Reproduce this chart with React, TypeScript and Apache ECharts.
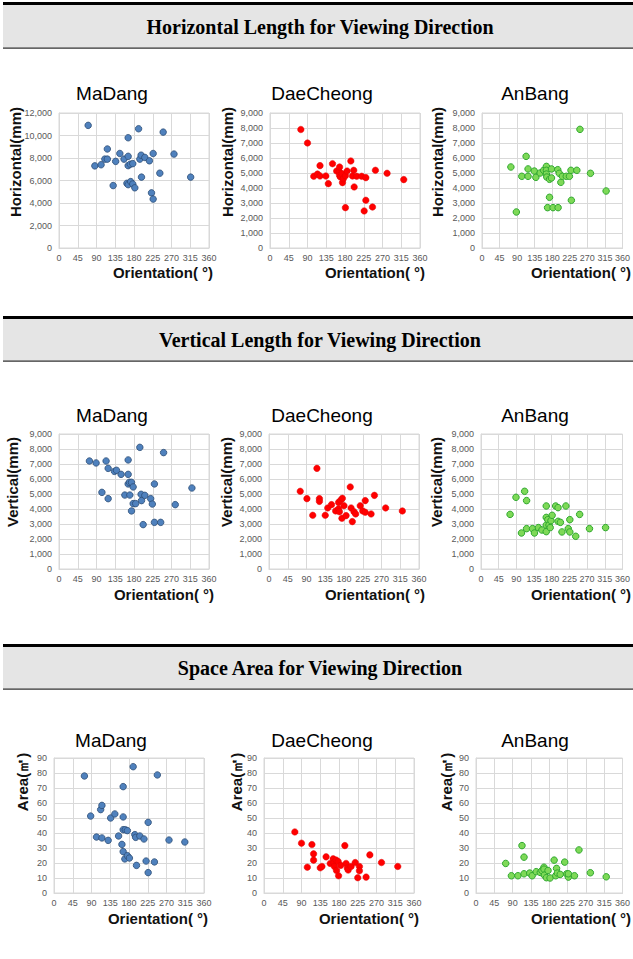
import React, { useEffect, useRef } from "react";
import * as echarts from "echarts";

// ---------- data: [orientation(°), value] ----------
const madangHorizontal: [number, number][] = [
  [70, 10900], [86, 7300], [101, 7400], [116, 8800], [110, 7900], [116, 7900], [130, 5550],
  [136, 7700], [146, 8400], [156, 7900], [166, 9800], [166, 8150], [166, 7320], [171, 7450],
  [177, 7500], [163, 5750], [166, 5630], [172, 5900], [177, 5690], [182, 5350], [191, 10600],
  [194, 7900], [197, 8250], [198, 6300], [206, 8050], [217, 7750], [226, 8400], [222, 4900],
  [226, 4350], [242, 6650], [250, 10300], [276, 8350], [316, 6300],
];
const daecheongHorizontal: [number, number][] = [
  [74, 7900], [90, 7000], [105, 4780], [114, 4930], [120, 5490], [120, 4800], [134, 4800],
  [140, 4290], [150, 5620], [160, 5130], [166, 5110], [167, 5400], [167, 4840], [169, 4730],
  [173, 4950], [174, 4360], [176, 4620], [181, 4820], [181, 2690], [185, 5130], [194, 5800],
  [198, 4800], [201, 5180], [202, 4070], [208, 4780], [220, 4780], [226, 2470], [230, 4690],
  [230, 3180], [246, 2730], [253, 5180], [281, 4980], [321, 4560],
];
const anbangHorizontal: [number, number][] = [
  [74, 5400], [88, 2400], [102, 4780], [113, 6110], [118, 5270], [118, 4780], [134, 5130],
  [138, 4710], [149, 5000], [158, 5180], [165, 5440], [165, 5180], [165, 4930], [166, 4730],
  [173, 4580], [178, 4670], [178, 5270], [168, 2690], [173, 3380], [182, 2690], [194, 5220],
  [198, 4980], [195, 2690], [202, 4380], [206, 4780], [216, 4780], [224, 4780], [228, 5180],
  [229, 3180], [243, 5180], [251, 7910], [278, 4980], [318, 3800],
];
const madangVertical: [number, number][] = [
  [73, 7200], [89, 7070], [103, 5110], [113, 7200], [118, 6710], [118, 4690], [133, 6510],
  [138, 6580], [149, 6310], [158, 4930], [166, 7270], [166, 6310], [166, 5670], [169, 5780],
  [170, 4930], [174, 5780], [174, 3870], [178, 5470], [178, 4360], [184, 4360], [194, 8110],
  [197, 4980], [198, 4560], [202, 2960], [206, 4910], [220, 4690], [224, 4330], [229, 5670],
  [229, 3110], [244, 3110], [251, 7760], [279, 4290], [319, 5400],
];
const daecheongVertical: [number, number][] = [
  [75, 5180], [91, 4690], [105, 3580], [115, 6710], [121, 4690], [121, 4510], [135, 3580],
  [141, 4070], [150, 4290], [160, 3870], [167, 4020], [167, 4440], [169, 3820], [172, 4580],
  [176, 4710], [175, 3380], [180, 4220], [185, 3560], [195, 5470], [197, 4070], [200, 3160],
  [204, 3820], [208, 3670], [219, 4220], [225, 3870], [231, 4560], [231, 3780], [245, 3670],
  [253, 4910], [280, 4070], [320, 3870],
];
const anbangVertical: [number, number][] = [
  [74, 3640], [89, 4780], [103, 2400], [111, 5180], [116, 4560], [116, 2690], [131, 2690],
  [136, 2400], [146, 2760], [155, 2600], [166, 4200], [166, 3440], [166, 2930], [166, 2490],
  [170, 3290], [173, 2930], [176, 2760], [178, 3220], [181, 3580], [190, 4200], [196, 4090],
  [196, 3180], [202, 3110], [206, 2470], [216, 4200], [222, 2690], [226, 3290], [226, 2470],
  [241, 2180], [251, 3640], [276, 2690], [317, 2760],
];
const madangArea: [number, number][] = [
  [73, 78], [88, 51.3], [102, 37.3], [112, 55.6], [115, 58.4], [115, 36.7], [130, 35.1],
  [136, 50], [146, 52.7], [155, 38], [166, 70.9], [166, 50.7], [166, 42.2], [163, 32.4],
  [166, 27.6], [171, 42.2], [176, 41.6], [170, 22.7], [176, 24.9], [181, 23.3], [190, 84.2],
  [194, 38.9], [196, 37.1], [198, 18.4], [206, 38], [216, 36], [221, 21.3], [226, 47.1],
  [226, 13.6], [241, 20.7], [248, 78.7], [276, 35.3], [314, 34],
];
const daecheongArea: [number, number][] = [
  [74, 40.7], [90, 33.2], [104, 17.2], [115, 32.3], [119, 26.1], [119, 21.9], [135, 16.8],
  [139, 17.7], [149, 24.1], [159, 19.7], [166, 22.8], [168, 20.3], [169, 17.7], [173, 21.9],
  [174, 15], [178, 21], [179, 11.5], [184, 18.4], [194, 31.6], [197, 19.7], [200, 16.6],
  [202, 15.3], [209, 17.7], [219, 20.3], [225, 10.2], [229, 17.7], [229, 14.8], [245, 10.6],
  [254, 25.4], [282, 20.3], [321, 17.7],
];
const anbangArea: [number, number][] = [
  [73, 19.7], [87, 11.5], [103, 11.5], [113, 31.6], [118, 23.9], [118, 12.8], [132, 13.3],
  [138, 11.5], [148, 14.2], [158, 13.7], [162, 15], [167, 17.2], [167, 15.9], [168, 11.9],
  [173, 10.2], [177, 15], [182, 10], [192, 21.9], [196, 11.5], [198, 16.4], [200, 13.3],
  [207, 12.4], [218, 20.6], [223, 12.8], [227, 10.6], [227, 12.8], [242, 11.5], [253, 28.7],
  [281, 13.5], [320, 10.8],
];

// ---------- labels / ticks ----------
const sectionTitles = [
  "Horizontal Length for Viewing Direction",
  "Vertical Length for Viewing Direction",
  "Space Area for Viewing Direction",
];
const siteNames = ["MaDang", "DaeCheong", "AnBang"];
const yAxisNames = ["Horizontal(mm)", "Vertical(mm)", "Area(㎡)"];
const xAxisName = "Orientation( °)";
const orientationTicks = [0, 45, 90, 135, 180, 225, 270, 315, 360];
const horizontalTicksMaDang = [0, 2000, 4000, 6000, 8000, 10000, 12000];
const lengthTicks = [0, 1000, 2000, 3000, 4000, 5000, 6000, 7000, 8000, 9000];
const areaTicks = [0, 10, 20, 30, 40, 50, 60, 70, 80, 90];

const dataGrid = [
  [madangHorizontal, daecheongHorizontal, anbangHorizontal],
  [madangVertical, daecheongVertical, anbangVertical],
  [madangArea, daecheongArea, anbangArea],
];
const yTickGrid = [
  [horizontalTicksMaDang, lengthTicks, lengthTicks],
  [lengthTicks, lengthTicks, lengthTicks],
  [areaTicks, areaTicks, areaTicks],
];

// ---------- styles / layout ----------
const markerStyles = [
  { color: "#4f81bd", borderColor: "#2c4d75", borderWidth: 0.8, size: 6.5 },
  { color: "#ff0000", borderColor: "#e00000", borderWidth: 0.5, size: 6.5 },
  { color: "#7ed957", borderColor: "#2fa82f", borderWidth: 1, size: 6.5 },
];
const headerLayout = [
  { top: 2, bottom: 48, textY: 27 },
  { top: 316, bottom: 361, textY: 340 },
  { top: 644, bottom: 689, textY: 668 },
];
const rowLayout = [
  { top: 113, height: 135, lefts: [59, 270, 482], titleY: 93, yNameY: 162, yNameX: [15, 227, 437], xNameX: [163, 375, 581], xNameY: 272 },
  { top: 434, height: 135, lefts: [59, 269, 481], titleY: 415, yNameY: 482, yNameX: [12, 226, 436], xNameX: [164, 375, 581], xNameY: 594 },
  { top: 758, height: 135, lefts: [54, 264, 476], titleY: 740, yNameY: 782, yNameX: [22, 236, 446], xNameX: [158, 369, 581], xNameY: 918 },
];
const titleX = [[112, 322, 535], [112, 322, 535], [111, 322, 535]];
const PLOT_W = 150;

const SANS = "'Liberation Sans', Arial, Helvetica, sans-serif";
const SERIF = "'Liberation Serif', 'Times New Roman', serif";

function fmt(v: number) {
  return v.toLocaleString("en-US");
}

export default function App() {
  const ref = useRef<HTMLDivElement>(null);
  useEffect(() => {
    document.body.style.margin = "0";
    const chart = echarts.init(ref.current!, null, { renderer: "svg" });
    const grids: any[] = [];
    const xAxes: any[] = [];
    const yAxes: any[] = [];
    const series: any[] = [];
    const graphic: any[] = [];

    headerLayout.forEach((h, i) => {
      graphic.push({
        type: "rect",
        shape: { x: 3, y: h.top, width: 640, height: h.bottom - h.top },
        style: { fill: "#e5e5e5" },
        silent: true,
      });
      graphic.push({
        type: "rect",
        shape: { x: 3, y: h.top, width: 640, height: 3 },
        style: { fill: "#000000" },
        silent: true,
      });
      graphic.push({
        type: "rect",
        shape: { x: 3, y: h.bottom - 0.5, width: 640, height: 1.2 },
        style: { fill: "#333333" },
        silent: true,
      });
      graphic.push({
        type: "text",
        x: 320,
        y: h.textY,
        style: {
          text: sectionTitles[i],
          font: `bold 20px ${SERIF}`,
          fill: "#000",
          textAlign: "center",
          textVerticalAlign: "middle",
          align: "center",
          verticalAlign: "middle",
        },
        silent: true,
      });
    });

    rowLayout.forEach((row, r) => {
      for (let c = 0; c < 3; c++) {
        const idx = r * 3 + c;
        const yt = yTickGrid[r][c];
        const ms = markerStyles[c];
        grids.push({
          left: row.lefts[c],
          top: row.top,
          width: PLOT_W,
          height: row.height,
          show: true,
          borderColor: "#d9d9d9",
          borderWidth: 1,
        });
        xAxes.push({
          type: "value",
          gridIndex: idx,
          min: orientationTicks[0],
          max: orientationTicks[orientationTicks.length - 1],
          interval: orientationTicks[1] - orientationTicks[0],
          axisLine: { show: true, lineStyle: { color: "#d9d9d9" } },
          axisTick: { show: false },
          splitLine: { show: true, lineStyle: { color: "#d9d9d9", width: 1 } },
          axisLabel: { fontSize: 9, color: "#595959", fontFamily: SANS, margin: 5, showMaxLabel: true, showMinLabel: true },
        });
        yAxes.push({
          type: "value",
          gridIndex: idx,
          min: yt[0],
          max: yt[yt.length - 1],
          interval: yt[1] - yt[0],
          axisLine: { show: true, lineStyle: { color: "#d9d9d9" } },
          axisTick: { show: false },
          splitLine: { show: true, lineStyle: { color: "#d9d9d9", width: 1 } },
          axisLabel: { fontSize: 9, color: "#595959", fontFamily: SANS, margin: 7, formatter: (v: number) => fmt(v) },
        });
        series.push({
          type: "scatter",
          xAxisIndex: idx,
          yAxisIndex: idx,
          data: dataGrid[r][c],
          symbol: "circle",
          symbolSize: ms.size,
          itemStyle: { color: ms.color, borderColor: ms.borderColor, borderWidth: ms.borderWidth, opacity: 1 },
          emphasis: { disabled: true },
        });
        graphic.push({
          type: "text",
          x: titleX[r][c],
          y: row.titleY,
          style: {
            text: siteNames[c],
            font: `19px ${SANS}`,
            fill: "#000",
            textAlign: "center",
            textVerticalAlign: "middle",
            align: "center",
            verticalAlign: "middle",
          },
          silent: true,
        });
        graphic.push({
          type: "text",
          x: row.yNameX[c],
          y: row.yNameY,
          rotation: Math.PI / 2,
          style: {
            text: yAxisNames[r],
            font: `bold 15px ${SANS}`,
            fill: "#111",
            textAlign: "center",
            textVerticalAlign: "middle",
            align: "center",
            verticalAlign: "middle",
          },
          silent: true,
        });
        graphic.push({
          type: "text",
          x: row.xNameX[c],
          y: row.xNameY,
          style: {
            text: xAxisName,
            font: `bold 15px ${SANS}`,
            fill: "#111",
            textAlign: "center",
            textVerticalAlign: "middle",
            align: "center",
            verticalAlign: "middle",
          },
          silent: true,
        });
      }
    });

    chart.setOption({
      animation: false,
      backgroundColor: "#ffffff",
      grid: grids,
      xAxis: xAxes,
      yAxis: yAxes,
      series,
      graphic,
    });
    return () => chart.dispose();
  }, []);
  return (
    <div
      ref={ref}
      style={{ position: "absolute", left: 0, top: 0, width: 633, height: 959 }}
    />
  );
}
